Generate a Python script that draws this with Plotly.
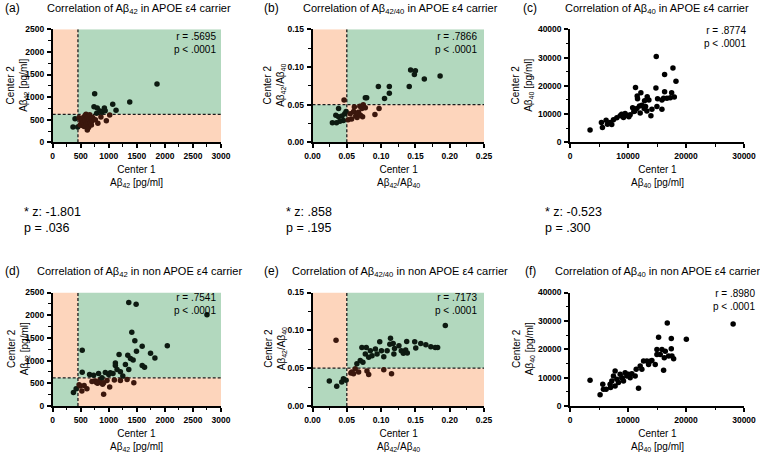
import plotly.graph_objects as go

W, H = 760, 453

# ---- data ----
# (a) Abeta42, APOE e4 carrier  [pg/ml]
a_c1 = [362, 446, 398, 470, 490, 505, 517, 530, 545, 555, 560, 575, 585, 594, 600, 610, 617, 625, 635, 640,
        650, 660, 672, 680, 690, 700, 712, 736, 748, 760, 784, 794, 805, 843, 860, 878, 921, 935, 956, 1016,
        1070, 1129, 1373, 1859]
a_c2 = [338, 338, 523, 545, 380, 470, 376, 520, 430, 560, 350, 480, 600, 619, 410, 520, 272, 450, 560, 330,
        500, 610, 420, 530, 380, 470, 550, 788, 1076, 500, 641, 759, 420, 692, 560, 663, 759, 700, 478, 604,
        840, 708, 891, 1290]
# (b) Abeta42/40, APOE e4 carrier
b_c1 = [0.029, 0.035, 0.034, 0.038, 0.038, 0.043, 0.045, 0.047, 0.049, 0.046, 0.055, 0.057, 0.060, 0.061,
        0.063, 0.065, 0.067, 0.069, 0.072, 0.073, 0.074, 0.077, 0.077, 0.079, 0.091, 0.096, 0.097, 0.105,
        0.112, 0.112, 0.141, 0.1485, 0.143, 0.150, 0.163, 0.186, 0.040, 0.052, 0.066, 0.070]
b_c2 = [0.026, 0.026, 0.036, 0.034, 0.045, 0.035, 0.029, 0.038, 0.041, 0.056, 0.038, 0.031, 0.041, 0.047,
        0.035, 0.033, 0.040, 0.048, 0.045, 0.034, 0.050, 0.046, 0.059, 0.059, 0.037, 0.074, 0.045, 0.058,
        0.074, 0.065, 0.074, 0.090, 0.096, 0.095, 0.084, 0.088, 0.028, 0.030, 0.038, 0.036]
# (c) Abeta40, APOE e4 carrier  [pg/ml]
c_c1 = [3458, 5418, 5591, 6225, 6455, 6916, 7493, 8069, 8646, 9222, 9798, 10375, 10144, 11182, 11527, 11988,
        12392, 12795, 13256, 11297, 11585, 11643, 12219, 12853, 13026, 13314, 13602, 13948, 14121, 14986,
        15850, 15850, 14813, 15101, 14870, 16138, 16715, 17983, 17752, 18271, 17522, 16311, 16311, 17291,
        10800, 11000, 12100, 7200, 8900, 9500]
c_c2 = [4327, 7018, 5263, 7836, 6433, 7018, 7953, 8655, 9357, 8772, 9590, 9708, 9006, 11111, 11930, 12865,
        13099, 11930, 11111, 19415, 16374, 15439, 17544, 14737, 12632, 16140, 14971, 9357, 11696, 12632,
        14971, 11696, 19181, 15439, 30409, 15556, 15556, 16023, 26316, 21637, 17544, 23977, 17895, 15789,
        12200, 10900, 10400, 6300, 9900, 10200]
# (d) Abeta42, non APOE e4 carrier  [pg/ml]
d_c1 = [370, 418, 470, 490, 520, 526, 526, 560, 610, 657, 729, 759, 800, 818, 818, 848, 878, 890, 908, 908,
        938, 968, 998, 1016, 1027, 1075, 1099, 1117, 1117, 1147, 1183, 1207, 1207, 1296, 1326, 1338, 1356,
        1356, 1386, 1410, 1434, 1446, 1464, 1487, 1493, 1595, 1595, 1637, 1744, 1822, 2043, 2750, 780, 700,
        1250]
d_c2 = [295, 382, 470, 440, 331, 1226, 746, 450, 380, 695, 680, 549, 500, 717, 527, 586, 622, 480, 513, 258,
        738, 564, 695, 418, 731, 717, 571, 949, 891, 804, 1132, 753, 564, 913, 586, 1117, 2278, 804, 1044,
        1626, 1015, 513, 1437, 2242, 1205, 1314, 891, 855, 1161, 1059, 1328, 2010, 520, 540, 660]
# (e) Abeta42/40, non APOE e4 carrier
e_c1 = [0.0245, 0.0343, 0.0353, 0.0426, 0.0451, 0.049, 0.0559, 0.0574, 0.0598, 0.0623, 0.0647, 0.0672,
        0.0696, 0.072, 0.0735, 0.077, 0.0784, 0.0794, 0.0819, 0.0819, 0.0843, 0.0868, 0.0917, 0.0941, 0.098,
        0.1005, 0.1039, 0.1039, 0.1088, 0.1127, 0.1137, 0.1152, 0.1176, 0.1186, 0.1196, 0.126, 0.1294,
        0.1324, 0.1358, 0.1373, 0.1382, 0.149, 0.1505, 0.1578, 0.1652, 0.1725, 0.1789, 0.1824, 0.1936]
e_c2 = [0.033, 0.087, 0.026, 0.0317, 0.036, 0.034, 0.0435, 0.0448, 0.0426, 0.0491, 0.0557, 0.0448, 0.06,
        0.0774, 0.0578, 0.0687, 0.0774, 0.0461, 0.0643, 0.0417, 0.073, 0.0665, 0.0752, 0.0687, 0.0848, 0.073,
        0.0652, 0.0478, 0.073, 0.0817, 0.0896, 0.0426, 0.0826, 0.0687, 0.0761, 0.0796, 0.073, 0.0696, 0.0739,
        0.0852, 0.07, 0.0848, 0.0765, 0.0826, 0.0809, 0.0783, 0.0774, 0.0774, 0.1065]
# (f) Abeta40, non APOE e4 carrier  [pg/ml]
f_c1 = [3458, 5187, 5648, 5764, 6225, 6916, 7205, 7493, 7781, 7781, 8069, 8357, 8646, 8934, 9222, 9510,
        9798, 10086, 10375, 10663, 11239, 11412, 11816, 12104, 12392, 12680, 13256, 13545, 14121, 14697,
        14986, 14986, 15274, 15562, 15850, 16138, 16254, 16427, 16772, 17003, 17464, 17464, 17579, 17867,
        20058, 28127, 7000, 9000, 13800]
f_c2 = [9066, 3932, 7666, 5916, 5916, 7666, 8833, 10583, 7083, 12333, 9416, 8250, 11166, 10000, 8833, 11750,
        10583, 11166, 10000, 11400, 10583, 12916, 6266, 14083, 12916, 15833, 15833, 14666, 16066, 14666,
        18166, 19916, 24250, 18166, 19916, 12583, 16983, 19333, 29250, 17583, 23750, 20150, 17583, 16650,
        23516, 28880, 6500, 9800, 15800]

letters = ["(a)", "(b)", "(c)", "(d)", "(e)", "(f)"]
titles = ["Correlation of Aβ<sub>42</sub> in APOE ε4 carrier",
          "Correlation of Aβ<sub>42/40</sub> in APOE ε4 carrier",
          "Correlation of Aβ<sub>40</sub> in APOE ε4 carrier",
          "Correlation of Aβ<sub>42</sub> in non APOE ε4 carrier",
          "Correlation of Aβ<sub>42/40</sub> in non APOE ε4 carrier",
          "Correlation of Aβ<sub>40</sub> in non APOE ε4 carrier"]
units = ["Aβ<sub>42</sub> [pg/ml]", "Aβ<sub>42</sub>/Aβ<sub>40</sub>", "Aβ<sub>40</sub> [pg/ml]"]
r_vals = [".5695", ".7866", ".8774", ".7541", ".7173", ".8980"]
p_vals = ["< .0001"] * 6
z_vals = ["-1.801", ".858", "-0.523"]
z_p = [".036", ".195", ".300"]
cutoffs = [(450, 620), (0.05, 0.05), None]

xs = [a_c1, b_c1, c_c1, d_c1, e_c1, f_c1]
ys = [a_c2, b_c2, c_c2, d_c2, e_c2, f_c2]

# axis setup per column: range, major step, minor step, format
xcfg = [([0, 3000], 500, 250, "d"), ([0, 0.25], 0.05, 0.025, ".2f"), ([0, 30000], 10000, 5000, "d")]
ycfg = [([0, 2500], 500, 250, "d"), ([0, 0.15], 0.05, 0.025, ".2f"), ([0, 40000], 10000, 5000, "d")]

GREEN = "#b2d8be"
ORANGE = "#fdd5bc"

# plot boxes in pixels (left, right), (top, bottom)
cols_px = [(52.7, 221), (312.5, 484), (570, 744)]
rows_px = [(29.3, 142.3), (292.5, 406)]


def px(x):
    return x / W


def py(y):
    return 1 - y / H


tickfont = dict(family="Liberation Sans, Arial", size=8.5, color="black", weight="bold")
txtfont = dict(family="Liberation Sans, Arial", size=10, color="black")

fig = go.Figure()
shapes = []
annotations = []

for i in range(6):
    r, c = divmod(i, 3)
    sfx = "" if i == 0 else str(i + 1)
    xname, yname = "x" + sfx, "y" + sfx
    (x0, x1), (t0, t1) = cols_px[c], rows_px[r]
    xr, xdt, xmn, xf = xcfg[c]
    yr, ydt, ymn, yf = ycfg[c]
    cut = cutoffs[c]

    if cut:
        tx, ty = cut
        cols = ["#3b170d" if (a > tx) != (b > ty) else "#0d1a11" for a, b in zip(xs[i], ys[i])]
    else:
        cols = "black"
    fig.add_trace(go.Scatter(x=xs[i], y=ys[i], mode="markers", xaxis=xname, yaxis=yname,
                             marker=dict(size=5.5, color=cols, line=dict(width=0)),
                             showlegend=False, cliponaxis=False))

    common = dict(tickmode="linear", tick0=0, showline=True, linecolor="black", linewidth=1.5,
                  ticks="outside", ticklen=4, tickwidth=1.5, tickcolor="black", showgrid=False,
                  zeroline=False, tickfont=tickfont, fixedrange=True, automargin=False, ticklabelstandoff=1)
    ax = dict(domain=[px(x0), px(x1)], anchor=yname, range=xr, dtick=xdt, tickformat=xf,
              minor=dict(ticks="outside", dtick=xmn, ticklen=2.5, tickwidth=1.2, tickcolor="black"),
              **common)
    ay = dict(domain=[py(t1), py(t0)], anchor=xname, range=yr, dtick=ydt, tickformat=yf,
              minor=dict(ticks="outside", dtick=ymn, ticklen=2.5, tickwidth=1.2, tickcolor="black"),
              **common)
    fig.update_layout({"xaxis" + sfx: ax, "yaxis" + sfx: ay})

    if cut:
        tx, ty = cut
        quads = [(xr[0], tx, yr[0], ty, GREEN), (tx, xr[1], ty, yr[1], GREEN),
                 (xr[0], tx, ty, yr[1], ORANGE), (tx, xr[1], yr[0], ty, ORANGE)]
        for qx0, qx1, qy0, qy1, col in quads:
            shapes.append(dict(type="rect", xref=xname, yref=yname, x0=qx0, x1=qx1, y0=qy0, y1=qy1,
                               fillcolor=col, line=dict(width=0), layer="below"))
        dash = dict(color="#1a1a1a", width=1.3, dash="3px,2px")
        shapes.append(dict(type="line", xref=xname, yref=yname, x0=tx, x1=tx, y0=yr[0], y1=yr[1],
                           line=dash, layer="below"))
        shapes.append(dict(type="line", xref=xname, yref=yname, x0=xr[0], x1=xr[1], y0=ty, y1=ty,
                           line=dash, layer="below"))

    # panel letter + title
    title_cx = [139, 400, 657][c]
    letter_x = [12, 271, 530][c]
    top = [9, 272][r]
    annotations.append(dict(text=letters[i], x=px(letter_x), y=py(top - 1), xref="paper", yref="paper",
                            showarrow=False, xanchor="center", yanchor="middle",
                            font=dict(family="Liberation Sans, Arial", size=12, color="black")))
    annotations.append(dict(text=titles[i], x=px(title_cx), y=py(top),
                            xref="paper", yref="paper", showarrow=False, xanchor="center",
                            yanchor="middle", font=dict(family="Liberation Sans, Arial", size=11,
                                                        color="black")))

    # r / p inside the plot, right aligned
    rp_right = [218, 479, 748][c] + (9 if i == 5 else 0)
    rp_top = t0 + ([0, 0, -6][c] if r == 0 else [-3, -3, -7][c])
    annotations.append(dict(text=f"r = {r_vals[i]}<br>p {p_vals[i]}", x=px(rp_right), y=py(rp_top),
                            xref="paper", yref="paper", showarrow=False, xanchor="right", yanchor="top",
                            align="right", font=txtfont))

    # axis titles
    ytx = [18, 275, 523][c]
    annotations.append(dict(text="Center 2<br>" + units[c], x=px(ytx), y=py((t0 + t1) / 2),
                            xref="paper", yref="paper", showarrow=False, textangle=-90,
                            xanchor="center", yanchor="middle", font=txtfont))
    annotations.append(dict(text="Center 1<br>" + units[c], x=px((x0 + x1) / 2), y=py(t1 + 20),
                            xref="paper", yref="paper", showarrow=False, xanchor="center",
                            yanchor="top", font=txtfont))

# z-test results between the rows
for c in range(3):
    zx = [22, 284, 543][c]
    annotations.append(dict(text=f"* z: {z_vals[c]}<br>p = {z_p[c]}", x=px(zx), y=py(203),
                            xref="paper", yref="paper", showarrow=False, xanchor="left", yanchor="top",
                            align="left",
                            font=dict(family="Liberation Sans, Arial", size=12.5, color="black")))

fig.update_layout(width=W, height=H, margin=dict(l=0, r=0, t=0, b=0), paper_bgcolor="white",
                  plot_bgcolor="white", shapes=shapes, annotations=annotations, showlegend=False)

# drop the default page margin so the figure sits at the window's top-left corner
fig.write_html("out.html", config={"displayModeBar": False},
               post_script="document.body.style.margin='0px';")
